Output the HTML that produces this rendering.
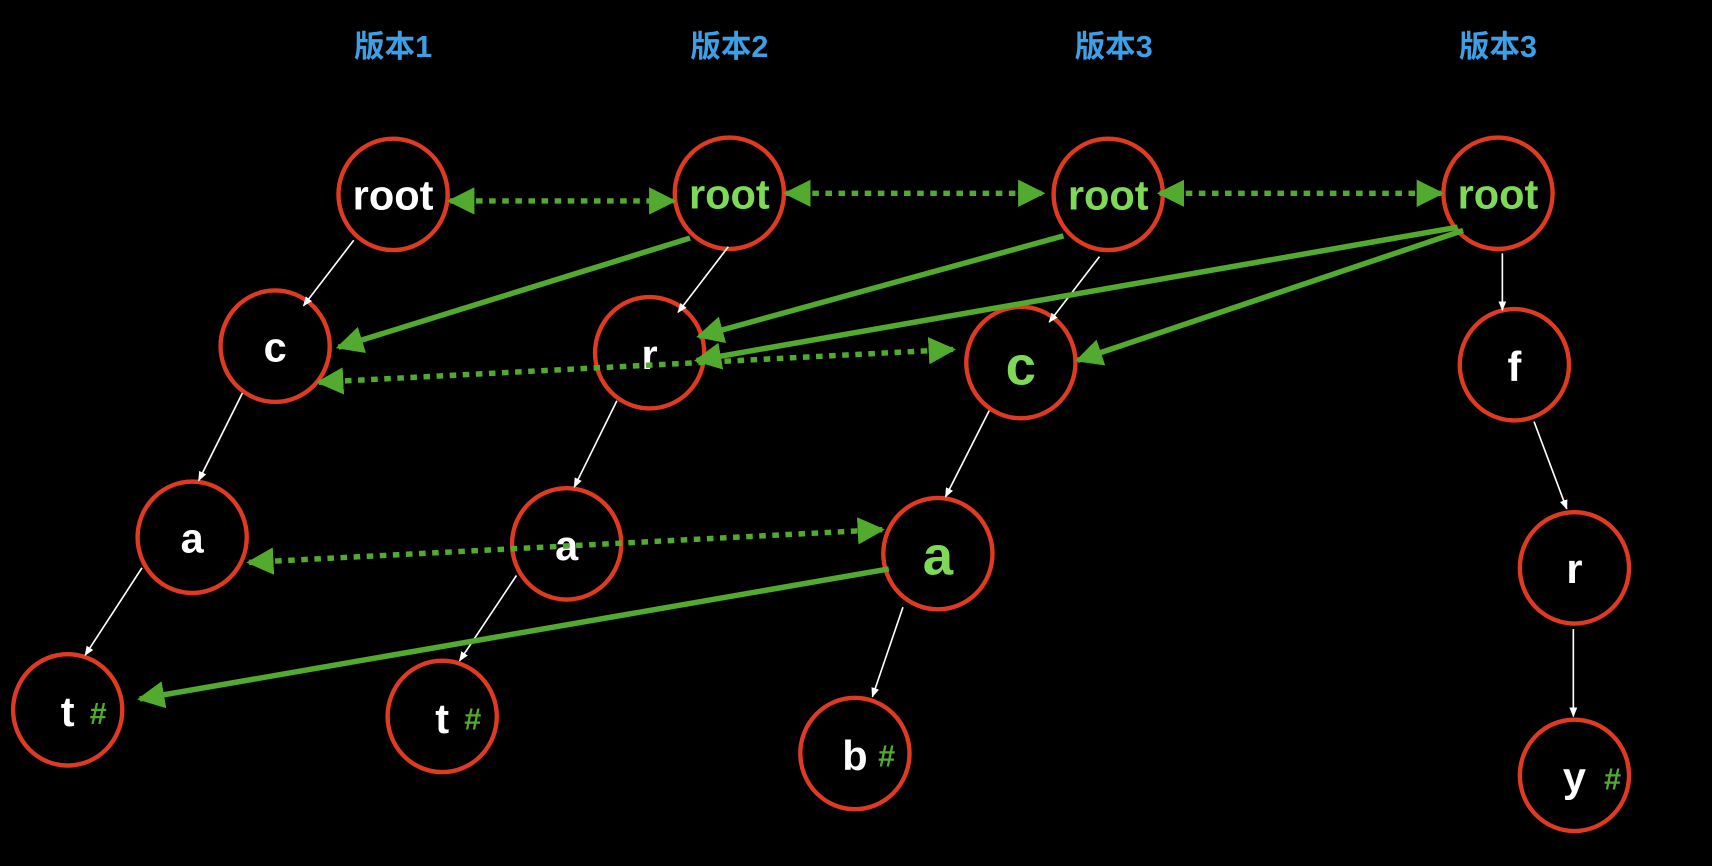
<!DOCTYPE html>
<html><head><meta charset="utf-8"><style>html,body{margin:0;padding:0;background:#000;width:1712px;height:866px;overflow:hidden}</style></head>
<body>
<svg width="1712" height="866" viewBox="0 0 1568 793" preserveAspectRatio="none" xmlns="http://www.w3.org/2000/svg">
<defs>
<marker id="g" viewBox="0 0 10 10" refX="9" refY="5" markerWidth="5" markerHeight="5" orient="auto-start-reverse" markerUnits="strokeWidth"><path d="M0,0L10,5L0,10z" fill="#52ab2f"/></marker>
<marker id="w" viewBox="0 0 10 10" refX="9" refY="5" markerWidth="6" markerHeight="6" orient="auto" markerUnits="strokeWidth"><path d="M0,1L10,5L0,9z" fill="#fff"/></marker>
</defs>
<g font-family="Liberation Sans, Noto Sans CJK SC, sans-serif" font-weight="bold" fill="#3d9fe6" font-size="28" text-anchor="middle">
<text x="360" y="52">版本1</text><text x="668" y="52">版本2</text><text x="1020" y="52">版本3</text><text x="1372" y="52">版本3</text>
</g>
<g fill="#000" stroke="#e03a22" stroke-width="4">
<ellipse cx="360" cy="178" rx="50" ry="51"/><ellipse cx="668" cy="177" rx="50" ry="51"/><ellipse cx="1015" cy="178" rx="50" ry="51"/><ellipse cx="1372" cy="177" rx="50" ry="51"/>
<ellipse cx="252" cy="317" rx="50" ry="51"/><ellipse cx="595" cy="323" rx="50" ry="51"/><ellipse cx="935" cy="332" rx="50" ry="51"/><ellipse cx="1387" cy="334" rx="50" ry="51"/>
<ellipse cx="176" cy="492" rx="50" ry="51"/><ellipse cx="519" cy="498" rx="50" ry="51"/><ellipse cx="859" cy="507" rx="50" ry="51"/><ellipse cx="1442" cy="520" rx="50" ry="51"/>
<ellipse cx="62" cy="650" rx="50" ry="51"/><ellipse cx="405" cy="656" rx="50" ry="51"/><ellipse cx="783" cy="690" rx="50" ry="51"/><ellipse cx="1442" cy="710" rx="50" ry="51"/>
</g>
<g stroke="#fff" stroke-width="1.5" marker-end="url(#w)">
<line x1="324" y1="220" x2="278" y2="280"/><line x1="222" y1="360" x2="182" y2="440"/><line x1="130" y1="520" x2="78" y2="600"/>
<line x1="667" y1="226" x2="621" y2="286"/><line x1="565" y1="367" x2="526" y2="446"/><line x1="473" y1="527" x2="421" y2="605"/>
<line x1="1007" y1="235" x2="961" y2="295"/><line x1="906" y1="376" x2="866" y2="455"/><line x1="827" y1="556" x2="799" y2="638"/>
<line x1="1376" y1="232" x2="1376" y2="284"/><line x1="1405" y1="386" x2="1435" y2="466"/><line x1="1441" y1="576" x2="1441" y2="656"/>
</g>
<g font-family="Liberation Sans, sans-serif" font-weight="bold" font-size="38" text-anchor="middle" fill="#fff">
<text x="360" y="192" textLength="74" lengthAdjust="spacingAndGlyphs">root</text>
<text x="668" y="191" fill="#7ed957" textLength="74" lengthAdjust="spacingAndGlyphs">root</text><text x="1015" y="192" fill="#7ed957" textLength="74" lengthAdjust="spacingAndGlyphs">root</text><text x="1372" y="191" fill="#7ed957" textLength="74" lengthAdjust="spacingAndGlyphs">root</text>
<text x="252" y="331">c</text><text x="595" y="338">r</text><text x="935" y="352" font-size="50" fill="#7ed957">c</text><text x="1387" y="349">f</text>
<text x="176" y="506">a</text><text x="519" y="513">a</text><text x="859" y="526" font-size="50" fill="#7ed957">a</text><text x="1442" y="534">r</text>
<text x="62" y="665">t</text><text x="405" y="671">t</text><text x="783" y="705">b</text><text x="1442" y="725">y</text>
</g>
<g font-family="Liberation Sans, sans-serif" font-weight="bold" font-size="28" fill="#52ab2f" text-anchor="middle">
<text x="90" y="663">#</text><text x="433" y="668">#</text><text x="812" y="702">#</text><text x="1477" y="723">#</text>
</g>
<g stroke="#52ab2f" stroke-width="5" fill="none" marker-end="url(#g)">
<line x1="632" y1="218" x2="310" y2="318"/><line x1="974" y1="216" x2="640" y2="308"/><line x1="1335" y1="208" x2="638" y2="330"/>
<line x1="1340" y1="211" x2="987" y2="330"/><line x1="814" y1="521" x2="128" y2="640"/>
</g>
<g stroke="#52ab2f" stroke-width="5" fill="none" stroke-dasharray="6 6" marker-start="url(#g)" marker-end="url(#g)">
<line x1="412" y1="184" x2="617" y2="184"/><line x1="720" y1="177" x2="955" y2="177"/><line x1="1062" y1="177" x2="1320" y2="177"/>
<line x1="292" y1="350" x2="873" y2="320"/><line x1="228" y1="515" x2="808" y2="485"/>
</g>
</svg>
</body></html>
